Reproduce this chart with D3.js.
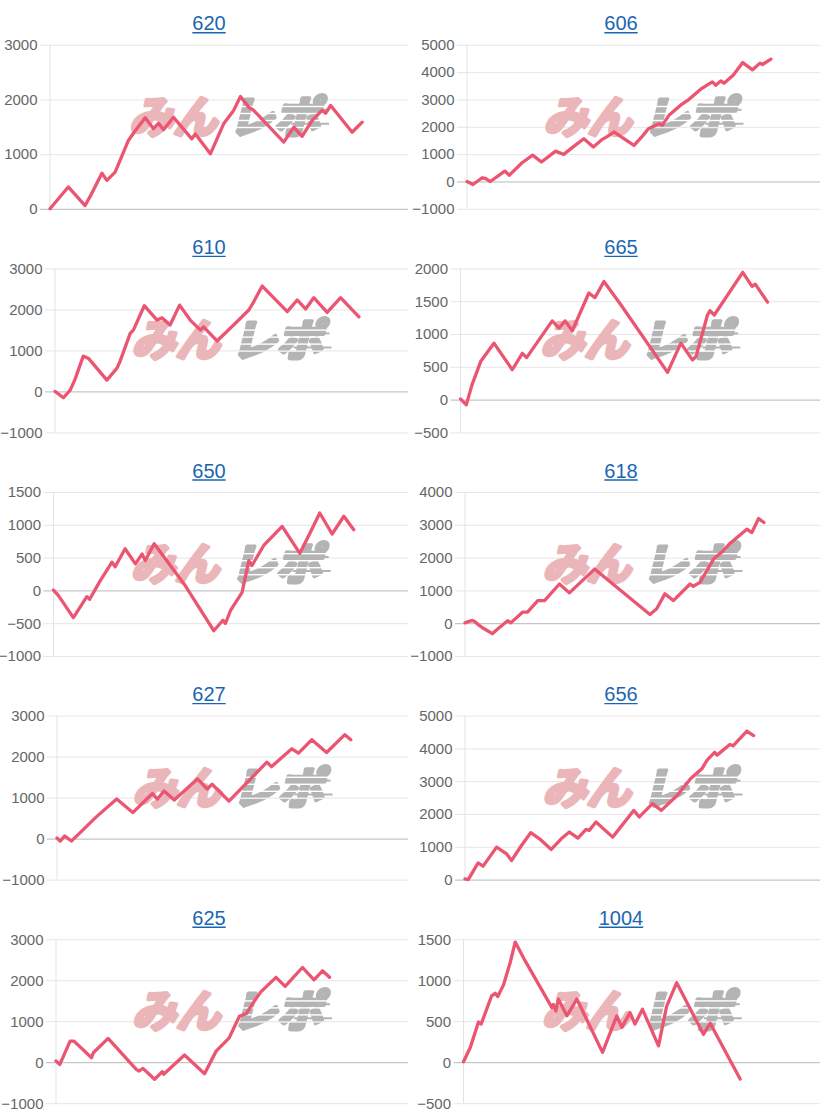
<!DOCTYPE html>
<html><head><meta charset="utf-8">
<script src="https://cdn.jsdelivr.net/npm/d3@7"></script>
<style>html,body{margin:0;padding:0;background:#fff;} svg{display:block;}</style>
</head><body>
<svg id="c" width="824" height="1120"></svg>
<script>
// ---- data ----
const titles = ["620","606","610","665","650","618","627","656","625","1004"];

const ticks620 = [0,1000,2000,3000];
const ticks606 = [-1000,0,1000,2000,3000,4000,5000];
const ticks610 = [-1000,0,1000,2000,3000];
const ticks665 = [-500,0,500,1000,1500,2000];
const ticks650 = [-1000,-500,0,500,1000,1500];
const ticks618 = [-1000,0,1000,2000,3000,4000];
const ticks627 = [-1000,0,1000,2000,3000];
const ticks656 = [0,1000,2000,3000,4000,5000];
const ticks625 = [-1000,0,1000,2000,3000];
const ticks1004 = [-500,0,500,1000,1500];

// [progress (0-100 of x axis), value]
const s620 = [[0,0],[5.1,400],[9.8,60],[11.5,260],[14.5,650],[15.9,520],[18.2,670],[21.9,1250],[23.5,1400],[26.6,1665],[28.9,1465],[30.3,1565],[31.7,1445],[34.5,1675],[39.6,1280],[40.6,1370],[44.8,1005],[48.5,1555],[51.3,1800],[53.2,2055],[55.5,1860],[56.9,1800],[65.3,1220],[68.1,1495],[70.4,1325],[73.2,1615],[76.0,1800],[77.0,1750],[78.4,1890],[84.4,1400],[87.2,1585]];
const s606 = [[0,0],[1.7,-110],[4.3,135],[5.2,110],[6.6,0],[10.7,380],[12.0,230],[15.6,685],[18.6,965],[21.1,710],[25.1,1110],[27.4,990],[30.7,1330],[33.1,1565],[35.8,1260],[38.3,1540],[39.7,1640],[41.6,1810],[47.3,1320],[49.7,1660],[51.4,1930],[54.4,2115],[55.3,2055],[57.2,2420],[60.5,2790],[62.9,3005],[66.2,3375],[69.5,3645],[70.5,3520],[71.9,3680],[72.8,3595],[75.4,3890],[78.1,4350],[80.9,4085],[83.0,4330],[83.7,4280],[86.1,4475]];
const s610 = [[0,0],[2.4,-155],[4.3,30],[5.7,300],[8.0,860],[9.5,805],[14.7,275],[17.5,560],[18.4,725],[21.3,1415],[22.2,1495],[25.3,2090],[28.9,1740],[30.3,1795],[32.6,1620],[35.3,2105],[38.3,1740],[41.2,1495],[42.1,1575],[45.9,1230],[50.6,1620],[54.9,1985],[56.3,2185],[58.7,2570],[65.8,1945],[68.6,2230],[71.0,2010],[73.3,2285],[77.1,1925],[80.9,2285],[86.1,1820]];
const s665 = [[0,10],[1.6,-80],[3.2,225],[5.6,580],[9.3,860],[14.4,455],[17.2,705],[18.4,640],[25.5,1200],[27.4,1090],[29.1,1200],[31.1,1050],[35.7,1625],[37.4,1555],[39.9,1800],[44.6,1445],[57.6,415],[61.3,860],[64.5,605],[65.5,655],[68.7,1290],[69.4,1355],[70.6,1290],[78.5,1940],[81.1,1725],[82.0,1760],[85.4,1485]];
const s650 = [[0,5],[1.4,-80],[5.6,-415],[9.4,-95],[10.2,-135],[13.2,150],[16.5,430],[17.4,360],[20.2,635],[23.1,405],[25.0,555],[25.9,455],[28.4,710],[37.2,70],[45.2,-615],[47.8,-455],[48.5,-505],[49.9,-310],[53.2,-30],[55.1,455],[56.0,380],[59.3,685],[64.5,975],[69.5,565],[72.5,890],[75.1,1180],[78.6,860],[81.9,1130],[84.7,925]];
const s618 = [[0,10],[1.1,55],[2.1,85],[3.0,30],[4.0,-70],[5.4,-170],[7.7,-320],[8.7,-220],[12.0,75],[12.9,10],[16.2,335],[17.6,340],[20.5,690],[22.4,690],[26.6,1195],[29.4,925],[36.5,1650],[52.1,265],[54.0,440],[56.3,895],[58.7,690],[63.4,1195],[64.3,1125],[66.2,1245],[70.0,1955],[72.8,2210],[74.7,2440],[79.4,2865],[80.8,2765],[82.7,3190],[84.2,3070]];
const s627 = [[0,15],[0.9,-60],[2.2,65],[4.1,-60],[11.2,530],[17.0,965],[21.6,635],[27.2,1100],[28.6,965],[30.5,1160],[33.4,940],[40.0,1455],[42.8,1210],[44.2,1325],[49.0,915],[59.8,1865],[61.1,1755],[66.9,2190],[68.8,2085],[72.6,2410],[76.8,2100],[82.0,2535],[83.7,2410]];
const s656 = [[0,20],[0.9,0],[3.7,510],[5.1,410],[8.9,990],[11.7,785],[13.1,580],[15.9,1040],[18.5,1430],[21.0,1245],[24.3,920],[27.1,1245],[29.4,1450],[31.8,1265],[34.1,1530],[35.0,1500],[36.9,1755],[41.6,1295],[45.3,1805],[47.5,2110],[49.1,1910],[52.8,2315],[55.3,2110],[59.8,2570],[63.6,3080],[66.8,3390],[68.2,3645],[70.3,3880],[71.0,3795],[74.6,4120],[75.5,4080],[79.4,4530],[81.3,4390]];
const s625 = [[0,30],[1.1,-55],[4.0,515],[5.1,515],[10.1,110],[10.6,230],[14.8,580],[22.8,-175],[23.6,-215],[24.7,-150],[28.0,-415],[30.2,-230],[30.6,-295],[36.5,175],[42.2,-280],[45.5,270],[49.2,595],[52.1,1120],[54.0,1180],[56.3,1485],[58.2,1715],[62.5,2070],[65.1,1850],[70.0,2310],[73.3,2010],[75.7,2230],[77.7,2070]];
const s1004 = [[0,5],[1.9,180],[4.2,490],[4.95,465],[7.9,810],[8.9,840],[9.6,800],[11.2,940],[13.1,1215],[14.5,1465],[17.3,1235],[24.8,665],[25.2,705],[25.9,625],[26.6,770],[29.0,565],[31.8,770],[39.0,120],[43.0,565],[44.4,425],[46.7,605],[48.1,465],[50.2,645],[54.7,200],[57.0,685],[59.8,970],[67.3,340],[69.2,475],[77.6,-205]];

const tickSets = [ticks620,ticks606,ticks610,ticks665,ticks650,ticks618,ticks627,ticks656,ticks625,ticks1004];
const seriesSets = [s620,s606,s610,s665,s650,s618,s627,s656,s625,s1004];

// ---- layout (not data) ----
const plotLefts = [50,55,55,48.5,53.5,53,57,53,56,51.5];
const cellW = 412, plotRight = 408, rowStep = 223.6, firstTop = 44.8, plotH = 164;
const lineColor = "#eb5571";

const svg = d3.select("#c");
const defs = svg.append("defs");
const mask = defs.append("mask").attr("id","stripes")
  .attr("maskUnits","userSpaceOnUse").attr("maskContentUnits","userSpaceOnUse")
  .attr("x",-130).attr("y",-50).attr("width",260).attr("height",100);
mask.append("rect").attr("x",-130).attr("y",-50).attr("width",260).attr("height",100).attr("fill","#fff");
[-11,-4,3,10].forEach(yy=>{
  mask.append("rect").attr("x",-2).attr("y",yy).attr("width",130).attr("height",1.4).attr("fill","#000");
});

titles.forEach((t,i)=>{
  const col = i%2, row = Math.floor(i/2);
  const cx = col*cellW;
  const top = firstTop + row*rowStep, bottom = top + plotH;
  const left = cx + plotLefts[i], right = cx + plotRight;
  const ticks = tickSets[i];
  const x = d3.scaleLinear().domain([0,100]).range([left,right]);
  const y = d3.scaleLinear().domain(d3.extent(ticks)).range([bottom,top]);
  const g = svg.append("g");

  // title
  const tt = g.append("text").attr("x",cx+209).attr("y",top-14.5)
    .attr("text-anchor","middle").attr("font-family","Liberation Sans, Arial, sans-serif")
    .attr("font-size",20).attr("fill","#1a66b2").text(t);
  const tw = tt.node().getComputedTextLength();
  g.append("line").attr("x1",cx+209-tw/2).attr("x2",cx+209+tw/2)
    .attr("y1",top-12).attr("y2",top-12).attr("stroke","#1a66b2").attr("stroke-width",1.4);

  // grid lines + ticks
  const axis = d3.axisLeft(y).tickValues(ticks).tickSize(-(right-left)).tickPadding(13).tickFormat(d3.format("d"));
  const ag = g.append("g").attr("transform",`translate(${left},0)`).call(axis);
  ag.select(".domain").remove();
  ag.selectAll(".tick line").attr("x1",-10)
    .attr("stroke",d=>d===0?"#b8b8b8":"#e6e6e6").attr("stroke-width",1);
  ag.selectAll(".tick text").attr("font-family","Liberation Sans, Arial, sans-serif")
    .attr("font-size",15).attr("fill","#666").attr("x",-12.5);
  g.append("line").attr("x1",left).attr("x2",left).attr("y1",top).attr("y2",bottom)
    .attr("stroke","#e3e3e3");

  // watermark
  const wx = (left+right)/2, wy = (top+bottom)/2 - 10;
  const wg = g.append("g").attr("transform",`translate(${wx},${wy})`);
  wg.append("text").attr("x",-8).attr("y",16).attr("text-anchor","end")
    .attr("transform","skewX(-14)")
    .attr("font-family","Noto Sans CJK JP, sans-serif").attr("font-weight",700)
    .attr("font-size",44).attr("fill","#ebb6b9")
    .attr("stroke","#ebb6b9").attr("stroke-width",4).attr("stroke-linejoin","round")
    .attr("textLength",88).attr("lengthAdjust","spacingAndGlyphs").text("みん");
  const mg = wg.append("g").attr("mask","url(#stripes)");
  mg.append("text").attr("x",3).attr("y",16)
    .attr("transform","skewX(-14)")
    .attr("font-family","Noto Sans CJK JP, sans-serif").attr("font-weight",700)
    .attr("font-size",44).attr("fill","#b4b4b4")
    .attr("stroke","#b4b4b4").attr("stroke-width",4).attr("stroke-linejoin","round")
    .attr("textLength",92).attr("lengthAdjust","spacingAndGlyphs").text("レポ");
  [[70,-7,28],[62,7,38]].forEach(([sx,sy,len])=>{
    wg.append("line").attr("x1",sx).attr("x2",sx+len).attr("y1",sy).attr("y2",sy)
      .attr("stroke","#b4b4b4").attr("stroke-width",2);
  });

  // series line
  const line = d3.line().x(d=>x(d[0])).y(d=>y(d[1]));
  g.append("path").datum(seriesSets[i]).attr("d",line)
    .attr("fill","none").attr("stroke",lineColor).attr("stroke-width",3.3)
    .attr("stroke-linejoin","round").attr("stroke-linecap","round");
});
</script>
</body></html>
